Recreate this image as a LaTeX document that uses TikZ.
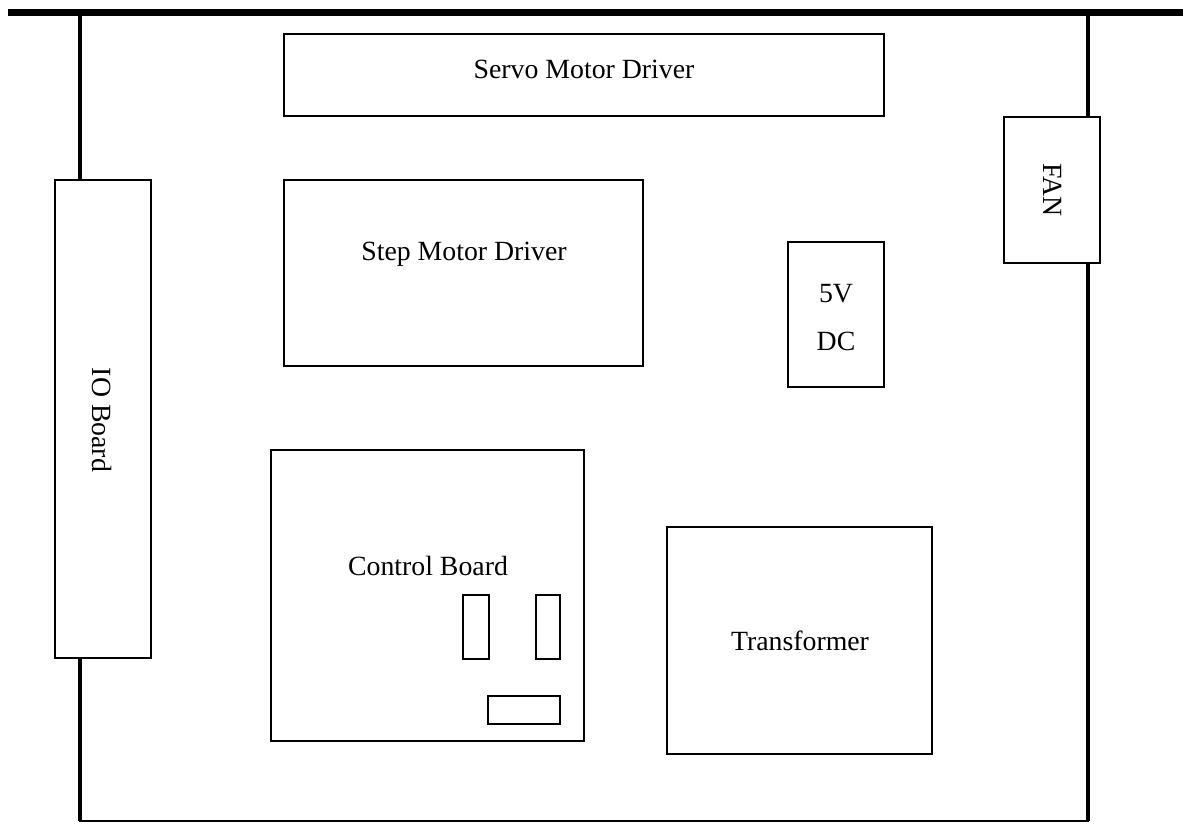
\documentclass[tikz,border=0pt]{standalone}
\usepackage{fontspec}
\setmainfont{Liberation Serif}
\usepackage{tikz}
\usetikzlibrary{positioning}

\begin{document}
\begin{tikzpicture}[
  x=1pt, y=-1pt,
  box/.style={draw, fill=white, line width=1.5pt, inner sep=0pt},
  txt/.style={font=\fontsize{27.8}{48}\selectfont, inner sep=0pt, align=center},
  bar/.style={line width=7pt},
  wall/.style={line width=4pt},
]
\useasboundingbox (0,0) rectangle (1183,824);

% Cabinet frame
\draw[bar] (8,13) -- (1183,13);
\draw[wall] (80,13) -- (80,821);
\draw[line width=2pt] (79,821) -- (1089,821);
\draw[wall] (1088,13) -- (1088,821);

% Modules
\node[box, minimum width=600pt, minimum height=82pt] (servo) at (584,75) {};
\node[txt] (servotxt) at (584,69) {Servo Motor Driver};

\node[box, minimum width=359pt, minimum height=186pt] (step) at (463.5,273) {};
\node[txt] (steptxt) at (464,254) {Step Motor Driver};

\node[box, minimum width=96pt, minimum height=478pt] (io) at (103,419) {};
\node[txt, rotate=-90] (iotxt) at (102,420) {IO Board};

\node[box, minimum width=96pt, minimum height=146pt] (fan) at (1052,190) {};
\node[txt, rotate=-90] (fantxt) at (1053,190) {FAN};

\node[box, minimum width=96pt, minimum height=145pt] (psu) at (836,314.5) {};
\node[txt] (psutxt) at (836,318) {5V\\DC};

\node[box, minimum width=313pt, minimum height=291pt] (ctrl) at (427.5,595.5) {};
\node[txt] (ctrltxt) at (428,566) {Control Board};

% Connectors on control board
\node[box, minimum width=26pt, minimum height=64pt] (conna) at (476,627) {};
\node[box, minimum width=24pt, minimum height=64pt] (connb) at (548,627) {};
\node[box, minimum width=72pt, minimum height=28pt] (connc) at (524,710) {};

\node[box, minimum width=265pt, minimum height=227pt] (trafo) at (799.5,640.5) {};
\node[txt] (trafotxt) at (800,641) {Transformer};
\end{tikzpicture}
\end{document}
